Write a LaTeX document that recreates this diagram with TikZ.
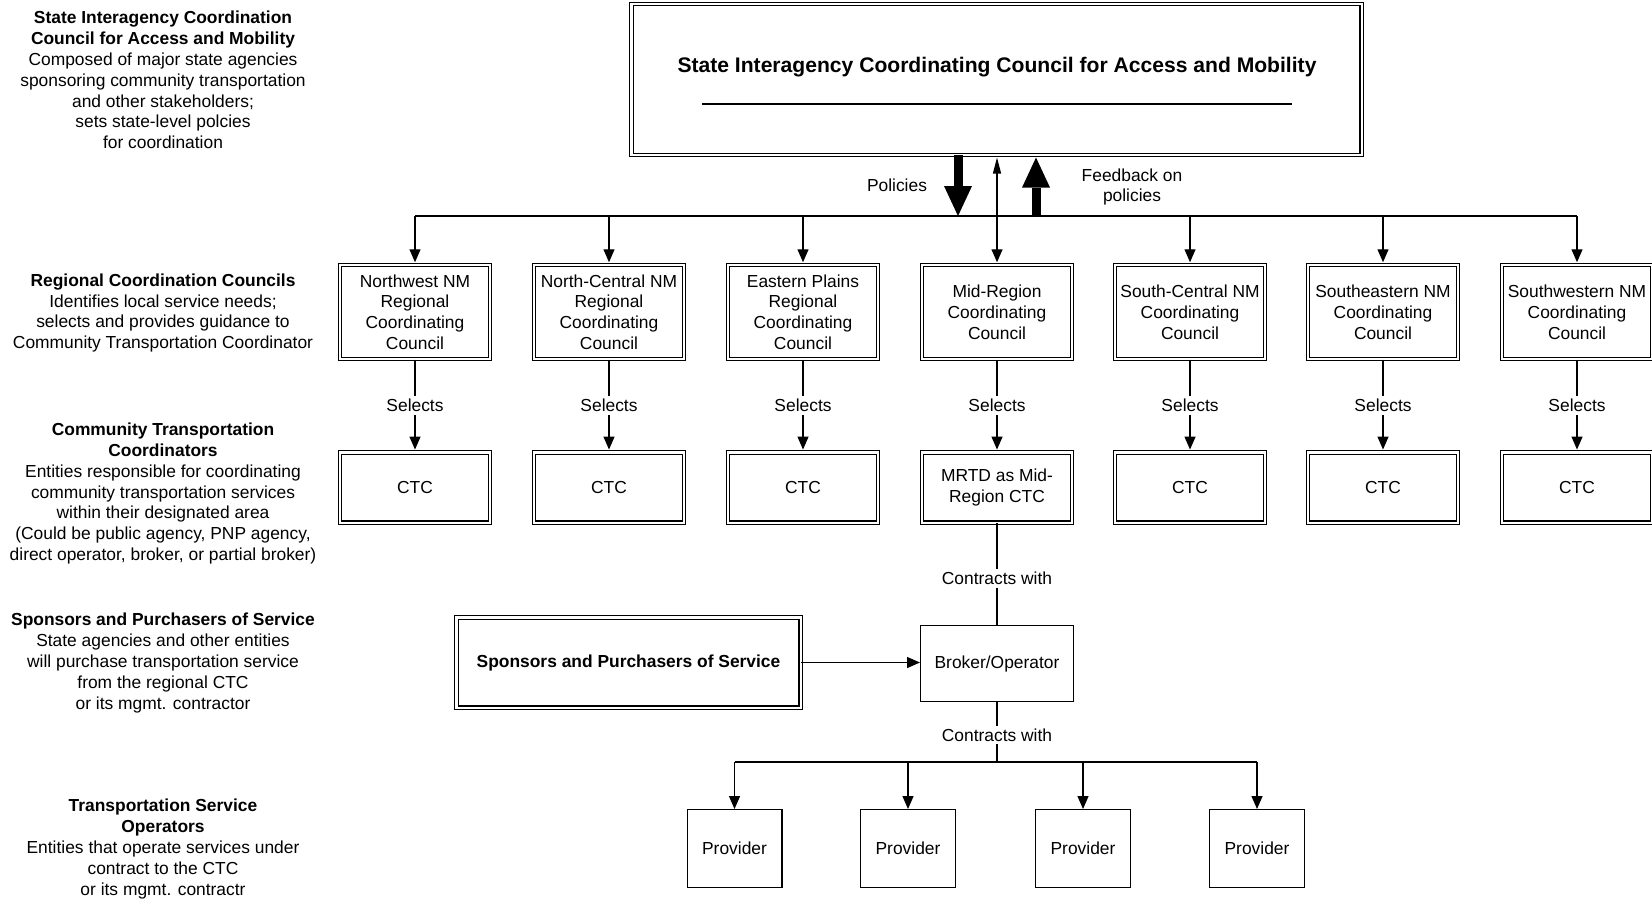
\documentclass[tikz,border=0pt]{standalone}
\usepackage{fontspec}
\setmainfont{Liberation Sans}
\usetikzlibrary{arrows.meta}
\begin{document}
\begin{tikzpicture}[x=0.5pt,y=-0.5pt,
  every node/.style={font=\fontsize{8.7}{10.4}\selectfont, align=center, inner sep=0pt},
  dbox/.style={draw, double, double distance=1.2pt, line width=0.55pt, minimum width=75pt, minimum height=47pt},
  sbox/.style={draw, line width=0.65pt},
  lbl/.style={fill=white, inner sep=1.5pt},
  conn/.style={line width=0.65pt},
  arr/.style={conn, -{Triangle[width=5.5pt,length=6.5pt]}},
  arrd/.style={arr, shorten >=1.1pt},
  bigarr/.style={line width=4.5pt, -{Triangle[width=14pt,length=15pt,line width=0pt]}},
  sidetext/.style={font=\fontsize{8.7}{10.4}\selectfont, align=center}
]
\path[use as bounding box] (0,0) rectangle (1652,899);

% left descriptions
\node[sidetext] (d1) at (163,80) {\textbf{State Interagency Coordination}\\\textbf{Council for Access and Mobility}\\Composed of major state agencies\\sponsoring community transportation\\and other stakeholders;\\sets state-level polcies\\for coordination};
\node[sidetext] (d2) at (163,313) {\textbf{Regional Coordination Councils}\\Identifies local service needs;\\selects and provides guidance to\\Community Transportation Coordinator};
\node[sidetext] (d3) at (163,493.5) {\textbf{Community Transportation}\\\textbf{Coordinators}\\Entities responsible for coordinating\\community transportation services\\within their designated area\\(Could be public agency, PNP agency,\\direct operator, broker, or partial broker)};
\node[sidetext] (d4) at (163,663) {\textbf{Sponsors and Purchasers of Service}\\State agencies and other entities\\will purchase transportation service\\from the regional CTC\\or its mgmt. contractor};
\node[sidetext] (d5) at (163,849) {\textbf{Transportation Service}\\\textbf{Operators}\\Entities that operate services under\\contract to the CTC\\or its mgmt. contractr};

% top council
\node[dbox, minimum width=365.2pt, minimum height=75.3pt] (sic) at (996.5,79.5) {};
\node[font=\bfseries\fontsize{10.55}{12}\selectfont] (sictitle) at (997,67) {State Interagency Coordinating Council for Access and Mobility};
\draw[line width=0.6pt] (702,104) -- (1292,104);

% regional councils
\node[dbox] (r1) at (415,312) {Northwest NM\\Regional\\Coordinating\\Council};
\node[dbox] (r2) at (609,312) {North-Central NM\\Regional\\Coordinating\\Council};
\node[dbox] (r3) at (803,312) {Eastern Plains\\Regional\\Coordinating\\Council};
\node[dbox] (r4) at (997,312) {Mid-Region\\Coordinating\\Council};
\node[dbox] (r5) at (1190,312) {South-Central NM\\Coordinating\\Council};
\node[dbox] (r6) at (1383,312) {Southeastern NM\\Coordinating\\Council};
\node[dbox] (r7) at (1577,312) {Southwestern NM\\Coordinating\\Council};

% CTCs
\node[dbox, minimum height=35.2pt] (c1) at (415,487.5) {CTC};
\node[dbox, minimum height=35.2pt] (c2) at (609,487.5) {CTC};
\node[dbox, minimum height=35.2pt] (c3) at (803,487.5) {CTC};
\node[dbox, minimum height=35.2pt] (c4) at (997,487.5) {MRTD as Mid-\\Region CTC};
\node[dbox, minimum height=35.2pt] (c5) at (1190,487.5) {CTC};
\node[dbox, minimum height=35.2pt] (c6) at (1383,487.5) {CTC};
\node[dbox, minimum height=35.2pt] (c7) at (1577,487.5) {CTC};

% broker and sponsors
\node[sbox, minimum width=76.35pt, minimum height=37.85pt] (bro) at (997,663.5) {Broker/Operator};
\node[dbox, minimum width=172.2pt, minimum height=45.2pt, font=\bfseries\fontsize{8.7}{10.4}\selectfont] (sp) at (628.5,662.5) {Sponsors and Purchasers of Service};

% providers
\node[sbox, minimum width=47.35pt, minimum height=38.85pt] (p1) at (734.5,848.5) {Provider};
\node[sbox, minimum width=47.35pt, minimum height=38.85pt] (p2) at (908,848.5) {Provider};
\node[sbox, minimum width=47.35pt, minimum height=38.85pt] (p3) at (1083,848.5) {Provider};
\node[sbox, minimum width=47.35pt, minimum height=38.85pt] (p4) at (1257,848.5) {Provider};

% policy arrows
\coordinate (bus) at (997,216);
\coordinate (pp) at (958,216);
\coordinate (fp) at (1036,216);
\node (pol) at (897,185) {Policies};
\node (fb) at (1132,187) {Feedback on\\policies};
\draw[bigarr] (sic.south -| pp) -- (pp);
\draw[bigarr, shorten >=1.1pt] (fp) -- (sic.south -| fp);
\draw[conn, -{Triangle[width=4pt,length=8pt]}, shorten >=1.1pt] (bus) -- (sic.south -| bus);

% bus to regional councils
\draw[conn] (r1.north |- bus) -- (r7.north |- bus);
\foreach \r in {r1,r2,r3,r4,r5,r6,r7}
  \draw[arrd] (\r.north |- bus) -- (\r.north);

% selects
\foreach \i in {1,...,7}
  \draw[arrd] (r\i.south) -- node[lbl]{Selects} (c\i.north);

% contracts
\draw[conn] (c4.south) -- node[lbl,pos=0.54]{Contracts with} (bro.north);
\draw[arr] (sp.east) -- (sp.east -| bro.west);
\coordinate (pbus) at (997,762);
\draw[line width=1.1pt] (bro.south) -- node[lbl,pos=0.55]{Contracts with} (pbus);
\draw[line width=0.9pt] (p1.north |- pbus) -- (p4.north |- pbus);
\foreach \p in {p1,p2,p3,p4}
  \draw[arr] (\p.north |- pbus) -- (\p.north);
\end{tikzpicture}
\end{document}
